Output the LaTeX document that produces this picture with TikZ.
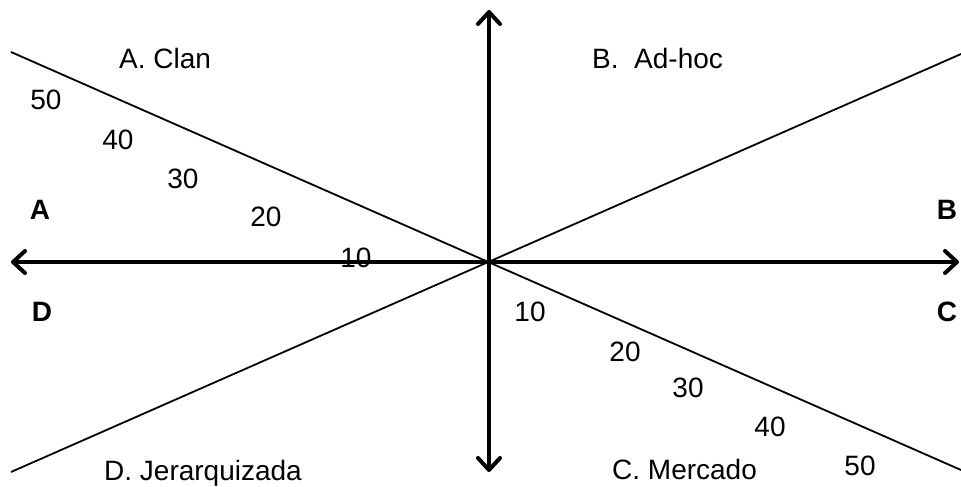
\documentclass[tikz,border=0pt]{standalone}
\usepackage{fontspec}
\setmainfont{Liberation Sans}
\usetikzlibrary{arrows.meta}

\begin{document}
\begin{tikzpicture}[
  x=1pt, y=-1pt,
  font=\fontsize{28}{32}\selectfont,
  axis/.style={line width=4pt,
               {Straight Barb[length=12pt, width=22pt, round]}-{Straight Barb[length=12pt, width=22pt, round]}},
  diag/.style={line width=1.8pt},
  lbl/.style={anchor=base, inner sep=0pt},
  quadname/.style={anchor=base west, inner sep=0pt},
  corner/.style={lbl, font=\fontsize{28}{32}\selectfont\bfseries}
]
\useasboundingbox (0,0) rectangle (961,487);

% axes
\coordinate (o) at (489,262);
\coordinate (top) at (489,10);
\coordinate (bot) at (489,472);
\coordinate (west) at (11,262);
\coordinate (east) at (959,262);

% diagonals
\coordinate (ul) at (11,52);
\coordinate (lr) at (961,470);
\coordinate (ll) at (11,472);
\coordinate (ur) at (961,54);

\draw[diag] (ul) -- (lr);
\draw[diag] (ll) -- (ur);
\draw[axis] (west) -- (east);
\draw[axis] (bot) -- (top);

% quadrant names
\node[quadname] (clan) at (119,69) {A. Clan};
\node[quadname] (adhoc) at (592,68) {B.\ \ Ad-hoc};
\node[quadname] (jer) at (104,480) {D. Jerarquizada};
\node[quadname] (merc) at (612,479) {C. Mercado};

% corner letters
\node[corner] (a) at (40,219) {A};
\node[corner] (b) at (947,219) {B};
\node[corner] (d) at (42,321) {D};
\node[corner] (c) at (947,321) {C};

% scale, upper left
\node[lbl] (ul50) at (46,110) {50};
\node[lbl] (ul40) at (118,149) {40};
\node[lbl] (ul30) at (183,188) {30};
\node[lbl] (ul20) at (266,226) {20};
\node[lbl] (ul10) at (356,267) {10};

% scale, lower right
\node[lbl] (lr10) at (530,321) {10};
\node[lbl] (lr20) at (625,361) {20};
\node[lbl] (lr30) at (688,397) {30};
\node[lbl] (lr40) at (770,436) {40};
\node[lbl] (lr50) at (860,475) {50};

\end{tikzpicture}
\end{document}
